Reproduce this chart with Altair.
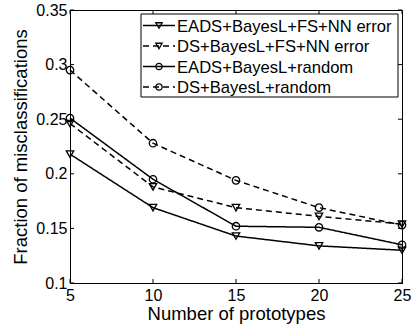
import altair as alt
import pandas as pd

# ---- data ----
prototypes = [5, 10, 15, 20, 25]
series_names = [
    "EADS+BayesL+FS+NN error",
    "DS+BayesL+FS+NN error",
    "EADS+BayesL+random",
    "DS+BayesL+random",
]
eads_fs_nn = [0.218, 0.169, 0.143, 0.134, 0.130]
ds_fs_nn = [0.246, 0.188, 0.169, 0.161, 0.154]
eads_random = [0.251, 0.195, 0.152, 0.151, 0.135]
ds_random = [0.295, 0.228, 0.194, 0.169, 0.153]
x_ticks = [5, 10, 15, 20, 25]
y_ticks = [0.1, 0.15, 0.2, 0.25, 0.3, 0.35]

values = [eads_fs_nn, ds_fs_nn, eads_random, ds_random]
rows = []
for name, vals in zip(series_names, values):
    for x, y in zip(prototypes, vals):
        rows.append({"x": x, "y": y, "series": name})
df = pd.DataFrame(rows)

# ---- styles ----
W, H = 332, 273
FONT = "Liberation Sans"
dashes = [[1, 0], [6, 4], [1, 0], [6, 4]]
shapes = ["triangle-down", "triangle-down", "circle", "circle"]

xscale = alt.Scale(domain=[5, 25], nice=False, zero=False)
yscale = alt.Scale(domain=[0.1, 0.35], nice=False, zero=False)

xenc = alt.X(
    "x:Q",
    scale=xscale,
    axis=alt.Axis(
        values=x_ticks,
        tickSize=0,
        labelPadding=4,
        labelFontSize=16,
        labelFont=FONT,
        labelColor="black",
        title="Number of prototypes",
        titleFont=FONT,
        titleFontSize=18.5,
        titleFontWeight="normal",
        titleColor="black",
        titlePadding=1,
        domainColor="black",
        grid=False,
        labelFlush=False,
    ),
)
yenc = alt.Y(
    "y:Q",
    scale=yscale,
    axis=alt.Axis(
        values=y_ticks,
        format=".2~f",
        tickSize=0,
        labelPadding=3,
        labelFontSize=16,
        labelFont=FONT,
        labelColor="black",
        title="Fraction of misclassifications",
        titleFont=FONT,
        titleFontSize=18.5,
        titleFontWeight="normal",
        titleColor="black",
        titlePadding=5,
        domainColor="black",
        grid=False,
        labelFlush=False,
    ),
)

dash_scale = alt.Scale(domain=series_names, range=dashes)
shape_scale = alt.Scale(domain=series_names, range=shapes)

lines = alt.Chart(df).mark_line(color="black", strokeWidth=1.5).encode(
    x=xenc,
    y=yenc,
    strokeDash=alt.StrokeDash("series:N", scale=dash_scale, legend=None),
    detail="series:N",
)
points = alt.Chart(df).mark_point(
    color="black", filled=False, size=55, strokeWidth=1.3, opacity=1
).encode(
    x=alt.X("x:Q", scale=xscale),
    y=alt.Y("y:Q", scale=yscale),
    shape=alt.Shape("series:N", scale=shape_scale, legend=None),
)

# inward ticks on all four sides
xt = pd.DataFrame({"v": x_ticks})
yt = pd.DataFrame({"v": y_ticks})
TL = 4
tick_layers = [
    alt.Chart(xt).mark_rule(color="black", strokeWidth=1).encode(
        x=alt.X("v:Q", scale=xscale), y=alt.value(H), y2=alt.value(H - TL)),
    alt.Chart(xt).mark_rule(color="black", strokeWidth=1).encode(
        x=alt.X("v:Q", scale=xscale), y=alt.value(0), y2=alt.value(TL)),
    alt.Chart(yt).mark_rule(color="black", strokeWidth=1).encode(
        y=alt.Y("v:Q", scale=yscale), x=alt.value(0), x2=alt.value(TL)),
    alt.Chart(yt).mark_rule(color="black", strokeWidth=1).encode(
        y=alt.Y("v:Q", scale=yscale), x=alt.value(W), x2=alt.value(W - TL)),
]

# manual legend (top-right, boxed)
one = pd.DataFrame({"a": [0]})
legend_layers = [
    alt.Chart(one).mark_rect(fill="white", stroke="black", strokeWidth=1).encode(
        x=alt.value(71), x2=alt.value(328), y=alt.value(4), y2=alt.value(87))
]
for i, name in enumerate(series_names):
    ly = 15.5 + 20.5 * i
    ld = pd.DataFrame({"label": [name]})
    legend_layers.append(
        alt.Chart(ld).mark_rule(color="black", strokeWidth=1.5).encode(
            x=alt.value(73), x2=alt.value(105), y=alt.value(ly),
            strokeDash=alt.value(dashes[i]))
    )
    legend_layers.append(
        alt.Chart(ld).mark_point(color="black", filled=False, size=40,
                                 strokeWidth=1.3, shape=shapes[i], opacity=1).encode(
            x=alt.value(89), y=alt.value(ly))
    )
    legend_layers.append(
        alt.Chart(ld).mark_text(align="left", baseline="middle", font=FONT,
                                fontSize=16.6, color="black").encode(
            x=alt.value(107), y=alt.value(ly + 1), text="label:N")
    )

chart = alt.layer(lines, points, *tick_layers, *legend_layers).properties(
    width=W,
    height=H,
    autosize=alt.AutoSizeParams(type="none"),
    padding={"left": 70, "top": 10, "right": 12, "bottom": 46},
    background="white",
).configure_view(stroke="black", strokeWidth=1)

chart.save("out.html", embed_options={"renderer": "svg", "actions": False})
